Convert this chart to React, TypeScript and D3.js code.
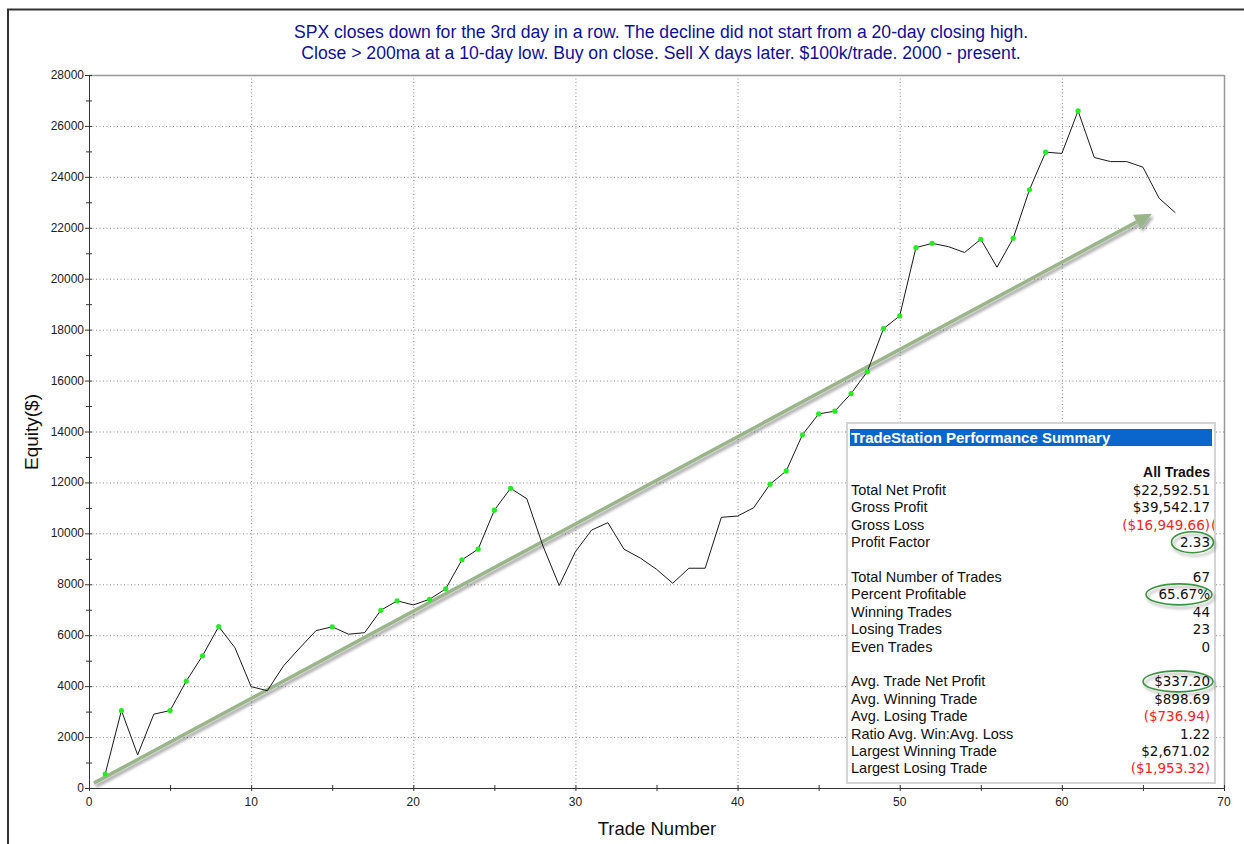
import React from "react";
import * as d3 from "d3";

// ---------- DATA ----------
const equity: number[] = [
  550, 3040, 1300, 2900, 3040, 4200, 5190, 6340, 5510, 3980,
  3820, 4800, 5500, 6180, 6330, 6040, 6100, 6980, 7350, 7190,
  7410, 7820, 8960, 9380, 10910, 11770, 11360, 9500, 7950, 9280,
  10130, 10420, 9375, 9030, 8590, 8040, 8630, 8630, 10630, 10680,
  11010, 11930, 12450, 13870, 14690, 14800, 15490, 16350, 18040, 18540,
  21220, 21390, 21260, 21030, 21550, 20450, 21590, 23490, 24970, 24920,
  26590, 24760, 24600, 24600, 24380, 23160, 22590,
];
const newHighTrades: number[] = [
  1, 2, 5, 6, 7, 8, 15, 18, 19, 21, 22, 23, 24, 25, 26, 42, 43, 44, 45, 46,
  47, 48, 49, 50, 51, 52, 55, 57, 58, 59, 61,
];
const xTicks: number[] = [0, 10, 20, 30, 40, 50, 60, 70];
const yTicks: number[] = [0, 2000, 4000, 6000, 8000, 10000, 12000, 14000, 16000, 18000, 20000, 22000, 24000, 26000, 28000];
const trendStart: [number, number] = [0.3, 190];
const trendEnd: [number, number] = [65.55, 22550];

const titleLines: string[] = [
  "SPX closes down for the 3rd day in a row. The decline did not start from a 20-day closing high.",
  "Close > 200ma at a 10-day low. Buy on close. Sell X days later. $100k/trade. 2000 - present.",
];

const summaryLabels: (string | null)[] = [
  "Total Net Profit", "Gross Profit", "Gross Loss", "Profit Factor", null,
  "Total Number of Trades", "Percent Profitable", "Winning Trades", "Losing Trades", "Even Trades", null,
  "Avg. Trade Net Profit", "Avg. Winning Trade", "Avg. Losing Trade", "Ratio Avg. Win:Avg. Loss",
  "Largest Winning Trade", "Largest Losing Trade",
];
const summaryValues: (string | null)[] = [
  "$22,592.51", "$39,542.17", "($16,949.66)", "2.33", null,
  "67", "65.67%", "44", "23", "0", null,
  "$337.20", "$898.69", "($736.94)", "1.22", "$2,671.02", "($1,953.32)",
];
const summaryNegative: boolean[] = [
  false, false, true, false, false,
  false, false, false, false, false, false,
  false, false, true, false, false, true,
];
const circledRows: number[] = [3, 6, 11];

// ---------- LAYOUT ----------
const W = 1244, H = 844;
const L = 89, R = 1224, T = 75, B = 788;
const FONT = "'Liberation Sans', Arial, sans-serif";
const VAL_FONT = "'DejaVu Sans', Verdana, sans-serif";

export default function App() {
  const x = d3.scaleLinear().domain([0, 70]).range([L, R]);
  const y = d3.scaleLinear().domain([0, 28000]).range([B, T]);
  const pts = equity.map((v, i) => ({ t: i + 1, v }));
  const line = d3.line<{ t: number; v: number }>().x((d) => x(d.t)).y((d) => y(d.v));

  const minorY = d3.range(0, 28001, 1000);
  const minorX = d3.range(0, 71, 5);

  // trend arrow
  const ax0 = x(trendStart[0]), ay0 = y(trendStart[1]);
  const ax1 = x(trendEnd[0]), ay1 = y(trendEnd[1]);
  const ang = Math.atan2(ay1 - ay0, ax1 - ax0);
  const headLen = 17, headW = 8;
  const bx = ax1 - headLen * Math.cos(ang), by = ay1 - headLen * Math.sin(ang);
  const px = -Math.sin(ang), py = Math.cos(ang);
  const head = `M${ax1},${ay1} L${bx + px * headW},${by + py * headW} L${bx - px * headW},${by - py * headW} Z`;

  // summary box
  const boxX = 847, boxY = 423, boxW = 368, boxH = 360;
  const rowY0 = 490, rowStep = 17.4;
  const labelX = 851, valueX = 1210;

  const circleSpec: Record<number, { cx: number; rx: number }> = {
    3: { cx: 1192.5, rx: 21 },
    6: { cx: 1179, rx: 33 },
    11: { cx: 1178, rx: 35 },
  };

  return (
    <svg width={W} height={H} style={{ position: "absolute", left: 0, top: 0, background: "#fff" }}>
      <defs>
        <filter id="shadow" x="-10%" y="-10%" width="120%" height="120%">
          <feGaussianBlur in="SourceAlpha" stdDeviation="1.6" />
          <feOffset dx="2" dy="3" result="ob" />
          <feComponentTransfer><feFuncA type="linear" slope="0.35" /></feComponentTransfer>
          <feMerge><feMergeNode /><feMergeNode in="SourceGraphic" /></feMerge>
        </filter>
        <clipPath id="boxclip"><rect x={boxX} y={boxY} width={boxW - 1} height={boxH} /></clipPath>
      </defs>
      <rect x={0} y={0} width={W} height={H} fill="#fff" />
      {/* outer frame */}
      <rect x={8} y={9.5} width={W + 20} height={H + 20} fill="none" stroke="#333" strokeWidth={2} />

      {/* title */}
      {titleLines.map((t, i) => (
        <text key={i} x={661} y={38 + i * 21} textAnchor="middle" fontFamily={FONT} fontSize={17.6} fill="#10109a">{t}</text>
      ))}

      {/* grid */}
      {yTicks.filter((v) => v > 0 && v < 28000).map((v) => (
        <line key={"gy" + v} x1={L} x2={R} y1={y(v) + 0.5} y2={y(v) + 0.5} stroke="#8a8a8a" strokeDasharray="1,2.5" />
      ))}
      {xTicks.filter((v) => v > 0 && v < 70).map((v) => (
        <line key={"gx" + v} x1={x(v) + 0.5} x2={x(v) + 0.5} y1={T} y2={B} stroke="#8a8a8a" strokeDasharray="1,2.5" />
      ))}

      {/* plot borders */}
      <line x1={L} x2={R} y1={T + 0.5} y2={T + 0.5} stroke="#999" strokeWidth={1.5} />
      <line x1={R + 0.5} x2={R + 0.5} y1={T} y2={B} stroke="#999" strokeWidth={1.5} />
      <line x1={L + 0.5} x2={L + 0.5} y1={T} y2={B} stroke="#333" strokeWidth={1} />
      <line x1={L} x2={R} y1={B + 0.5} y2={B + 0.5} stroke="#333" strokeWidth={1} />

      {/* ticks */}
      {minorY.map((v) => (
        <line key={"ty" + v} x1={L - (v % 2000 === 0 ? 4 : 3)} x2={L + 3} y1={y(v) + 0.5} y2={y(v) + 0.5} stroke="#333" />
      ))}
      {minorX.map((v) => (
        <line key={"tx" + v} x1={x(v) + 0.5} x2={x(v) + 0.5} y1={B - 3} y2={B + 3} stroke="#333" />
      ))}
      {yTicks.map((v) => (
        <text key={"ly" + v} x={L - 5} y={y(v) + 4} textAnchor="end" fontFamily={FONT} fontSize={12} fill="#222">{v}</text>
      ))}
      {xTicks.map((v) => (
        <text key={"lx" + v} x={x(v)} y={806} textAnchor="middle" fontFamily={FONT} fontSize={12} fill="#222">{v}</text>
      ))}
      <text x={657} y={835} textAnchor="middle" fontFamily={FONT} fontSize={18.5} fill="#111">Trade Number</text>
      <text transform={`translate(38,432) rotate(-90)`} textAnchor="middle" fontFamily={FONT} fontSize={19} fill="#111">Equity($)</text>

      {/* trend arrow */}
      <g filter="url(#shadow)">
        <line x1={ax0} y1={ay0} x2={bx} y2={by} stroke="#9bb58b" strokeWidth={3.5} />
        <path d={head} fill="#9bb58b" />
      </g>

      {/* equity line */}
      <path d={line(pts) || ""} fill="none" stroke="#1a1a1a" strokeWidth={1} />
      {pts.filter((p) => newHighTrades.includes(p.t)).map((p) => (
        <circle key={"p" + p.t} cx={x(p.t)} cy={y(p.v)} r={2.6} fill="#22ee22" />
      ))}

      {/* summary box */}
      <rect x={boxX} y={boxY} width={boxW} height={boxH} fill="#fff" stroke="#d4d4d4" strokeWidth={2} />
      <rect x={boxX + 3} y={429} width={boxW - 6} height={17} fill="#0a66cc" />
      <text x={labelX} y={443} fontFamily={FONT} fontSize={15} fontWeight="bold" fill="#fff">TradeStation Performance Summary</text>
      <text x={valueX} y={477} textAnchor="end" fontFamily={FONT} fontSize={14} fontWeight="bold" fill="#111">All Trades</text>
      <g clipPath="url(#boxclip)">
        {summaryLabels.map((lab, i) =>
          lab === null ? null : (
            <g key={"s" + i}>
              <text x={labelX} y={rowY0 + i * rowStep + 5} fontFamily={FONT} fontSize={14.5} fill="#111">{lab}</text>
              <text x={valueX} y={rowY0 + i * rowStep + 5} textAnchor="end" fontFamily={VAL_FONT} fontSize={13.5} fill={summaryNegative[i] ? "#f22" : "#111"}>{summaryValues[i]}</text>
            </g>
          )
        )}
        <text x={valueX + 1} y={rowY0 + 2 * rowStep + 5} fontFamily={VAL_FONT} fontSize={13.5} fill="#f22">(</text>
      </g>
      <g filter="url(#shadow)">
        {circledRows.map((i) => (
          <ellipse key={"c" + i} cx={circleSpec[i].cx} cy={rowY0 + i * rowStep} rx={circleSpec[i].rx} ry={10.5}
            fill="none" stroke="#3d9440" strokeWidth={1.6} />
        ))}
      </g>
    </svg>
  );
}
